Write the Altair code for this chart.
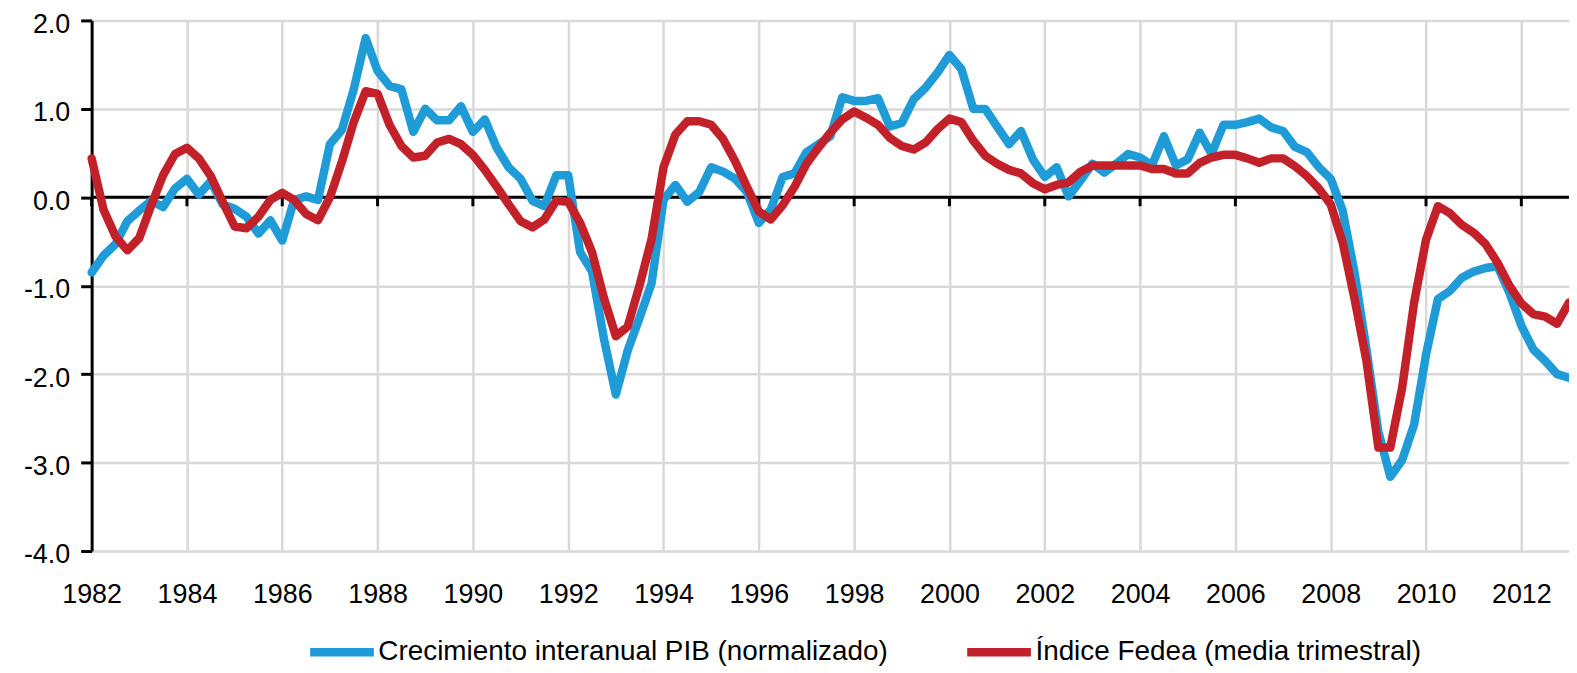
import altair as alt
import pandas as pd

# Quarterly series, 1982Q1 .. 2013Q1
start_year = 1982
pib = [
    -0.85, -0.66, -0.53, -0.27, -0.15, -0.04, -0.11, 0.10,
    0.21, 0.03, 0.18, -0.08, -0.13, -0.22, -0.41, -0.26,
    -0.49, -0.03, 0.01, -0.03, 0.60, 0.76, 1.22, 1.80,
    1.43, 1.26, 1.22, 0.74, 1.00, 0.87, 0.87, 1.03,
    0.74, 0.88, 0.56, 0.34, 0.21, -0.04, -0.10, 0.25,
    0.25, -0.62, -0.84, -1.60, -2.23, -1.73, -1.36, -0.97,
    -0.03, 0.14, -0.05, 0.06, 0.34, 0.29, 0.21, 0.06,
    -0.29, -0.14, 0.23, 0.27, 0.51, 0.60, 0.69, 1.13,
    1.09, 1.09, 1.12, 0.80, 0.84, 1.11, 1.24, 1.41,
    1.61, 1.45, 1.00, 1.00, 0.80, 0.60, 0.75, 0.43,
    0.23, 0.34, 0.01, 0.19, 0.38, 0.28, 0.38, 0.49,
    0.45, 0.36, 0.69, 0.36, 0.43, 0.73, 0.49, 0.82,
    0.82, 0.85, 0.89, 0.79, 0.75, 0.57, 0.51, 0.34,
    0.21, -0.15, -0.85, -1.72, -2.65, -3.16, -2.97, -2.57,
    -1.78, -1.15, -1.06, -0.91, -0.84, -0.80, -0.78, -1.08,
    -1.45, -1.72, -1.85, -2.00, -2.04,
]
fedea = [
    0.44, -0.14, -0.44, -0.60, -0.46, -0.09, 0.25, 0.49,
    0.56, 0.44, 0.24, -0.05, -0.33, -0.35, -0.22, -0.03,
    0.05, -0.03, -0.19, -0.26, 0.00, 0.40, 0.85, 1.20,
    1.17, 0.82, 0.58, 0.45, 0.47, 0.62, 0.66, 0.60,
    0.48, 0.31, 0.12, -0.08, -0.27, -0.34, -0.25, -0.04,
    -0.05, -0.29, -0.62, -1.14, -1.57, -1.46, -0.99, -0.47,
    0.34, 0.71, 0.86, 0.86, 0.82, 0.66, 0.41, 0.12,
    -0.16, -0.25, -0.09, 0.12, 0.38, 0.56, 0.73, 0.88,
    0.97, 0.90, 0.82, 0.67, 0.58, 0.54, 0.62, 0.77,
    0.89, 0.85, 0.64, 0.47, 0.38, 0.31, 0.27, 0.16,
    0.09, 0.14, 0.17, 0.29, 0.36, 0.36, 0.36, 0.36,
    0.36, 0.32, 0.32, 0.27, 0.27, 0.39, 0.45, 0.48,
    0.48, 0.44, 0.39, 0.44, 0.44, 0.35, 0.24, 0.10,
    -0.08, -0.51, -1.15, -1.85, -2.83, -2.83, -2.15, -1.19,
    -0.48, -0.10, -0.18, -0.31, -0.40, -0.53, -0.74, -1.00,
    -1.20, -1.32, -1.35, -1.43, -1.19,
]
series_names = ["Crecimiento interanual PIB (normalizado)", "Índice Fedea (media trimestral)"]
series_colors = ["#1F9BD7", "#C3212A"]
x_tick_years = list(range(1982, 2013, 2))
y_tick_values = [-4, -3, -2, -1, 0, 1, 2]

quarters = [start_year + i / 4 for i in range(len(pib))]
df = pd.DataFrame({
    "t": quarters * 2,
    "v": pib + fedea,
    "serie": [series_names[0]] * len(pib) + [series_names[1]] * len(fedea),
    "orden": [0] * len(pib) + [1] * len(fedea),
})
ticks_df = pd.DataFrame({"t": x_tick_years})
zero_df = pd.DataFrame({"v": [0]})

FONT = "Liberation Sans"

X = alt.X(
    "t:Q",
    scale=alt.Scale(domain=[1982, 2013], nice=False, zero=False),
    axis=alt.Axis(
        values=x_tick_years, format="d", title=None, grid=True,
        gridColor="#D9D9D9", gridWidth=2.5, domain=False, ticks=False,
        labelPadding=44, labelBaseline="middle", labelFontSize=27,
        labelFont=FONT, labelColor="black", labelFlush=False,
    ),
)
Y = alt.Y(
    "v:Q",
    scale=alt.Scale(domain=[-4, 2], nice=False, zero=False),
    axis=alt.Axis(
        values=y_tick_values, title=None, grid=True,
        gridColor="#D9D9D9", gridWidth=2.5,
        domainColor="black", domainWidth=3,
        tickColor="black", tickWidth=3, tickSize=11,
        labelPadding=11, labelFontSize=27, labelFont=FONT, labelColor="black",
        labelOffset=4, labelFlush=False,
        labelExpr="(datum.value < 0 ? '-' : '') + format(abs(datum.value), '.1f')",
    ),
)

zero_line = alt.Chart(zero_df).mark_rule(color="black", strokeWidth=3).encode(y=Y)

tick_marks = alt.Chart(ticks_df).mark_rule(color="black", strokeWidth=3, y2Offset=9).encode(
    x=X, y=alt.datum(0), y2=alt.datum(0)
)

lines = alt.Chart(df).mark_line(strokeWidth=8.5, strokeJoin="round", strokeCap="round").encode(
    x=X,
    y=Y,
    color=alt.Color(
        "serie:N",
        scale=alt.Scale(domain=series_names, range=series_colors),
        sort=series_names,
        legend=alt.Legend(
            orient="none", legendX=215, legendY=598, direction="horizontal",
            title=None, symbolType="stroke", symbolSize=4096, symbolStrokeWidth=8.5,
            labelFontSize=28, labelFont=FONT, labelColor="black", labelLimit=1000,
            columnPadding=62, labelOffset=0, padding=0,
        ),
    ),
    order=alt.Order("orden:Q"),
    detail="serie:N",
)

chart = alt.layer(zero_line, tick_marks, lines).properties(
    width=1484, height=533,
    autosize=alt.AutoSizeParams(type="none"),
    padding={"left": 84, "top": 11, "right": 0, "bottom": 114},
    background="white",
).configure_view(strokeWidth=0)

chart.save("out.html", embed_options={"renderer": "svg", "actions": False})
